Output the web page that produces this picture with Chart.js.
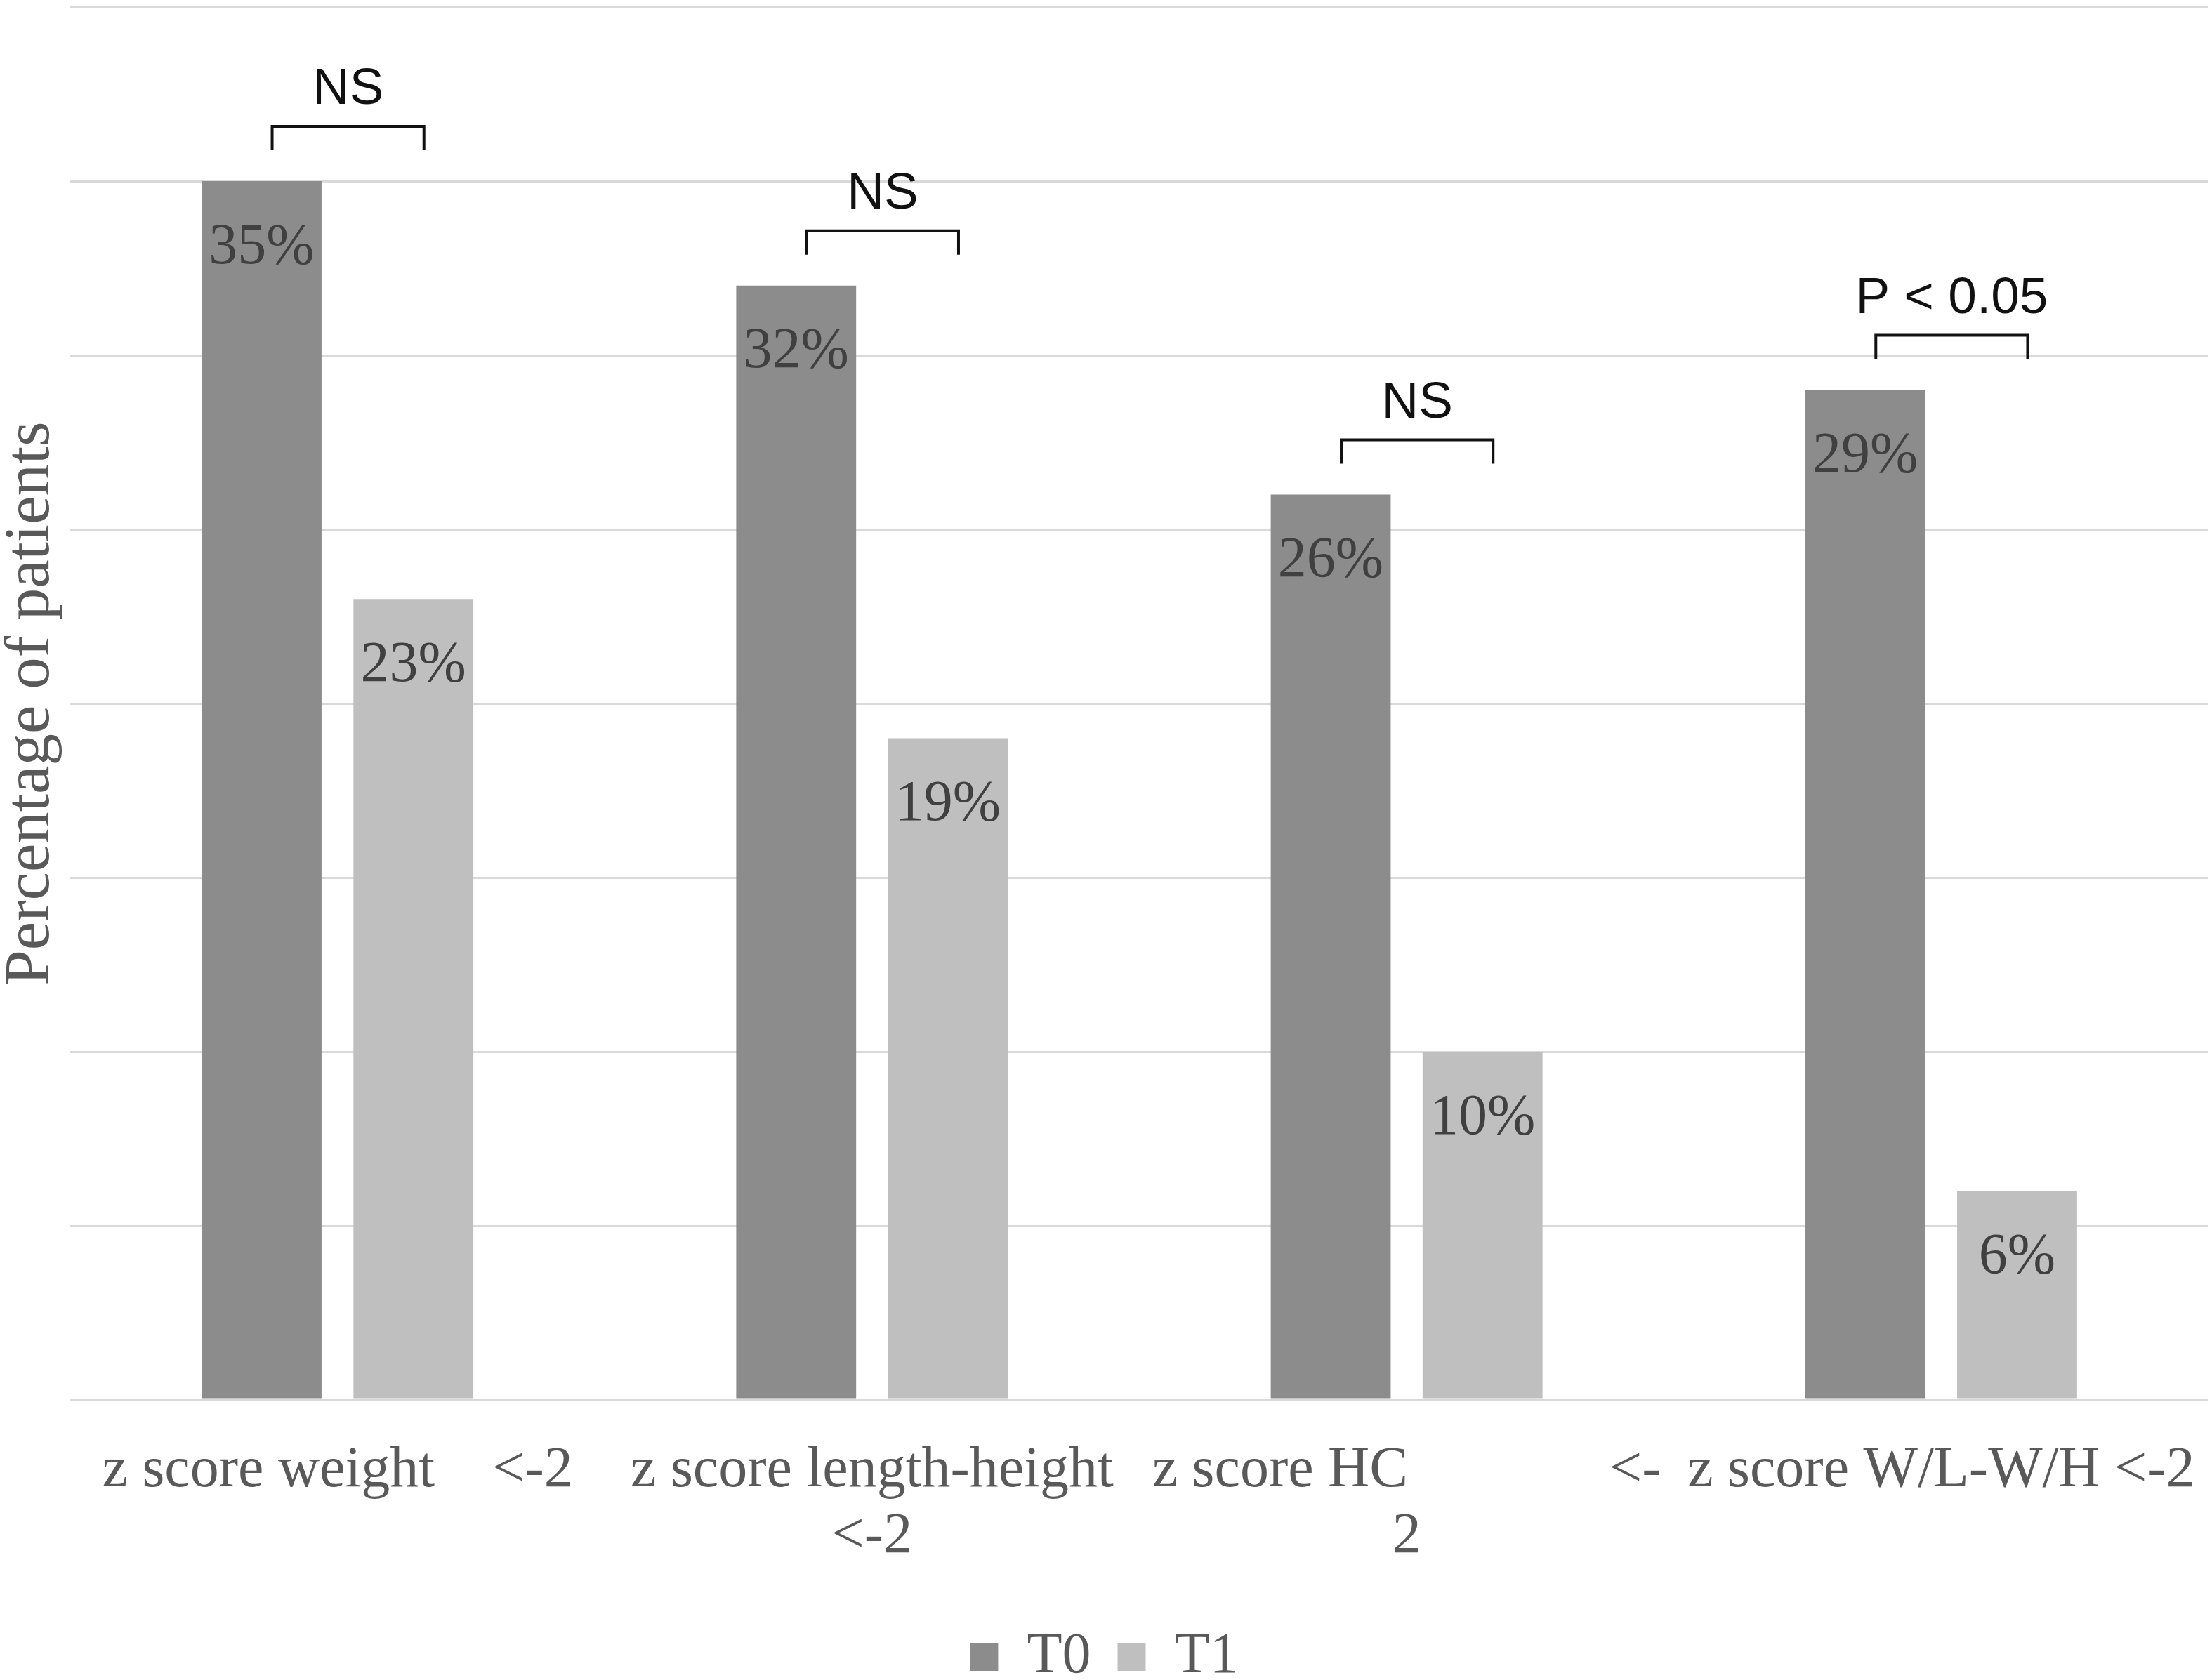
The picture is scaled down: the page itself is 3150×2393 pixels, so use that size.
<!DOCTYPE html>
<html>
<head>
<meta charset="utf-8">
<script src="https://cdn.jsdelivr.net/npm/chart.js@4.4.0/dist/chart.umd.min.js"></script>
<style>
  html, body { margin: 0; padding: 0; background: #ffffff; }
  #wrap { width: 3150px; height: 2393px; position: relative; }
</style>
</head>
<body>
<div id="wrap"><canvas id="c"></canvas></div>
<script>
// ---- data ----
const categories = [
  "z score weight    <-2",
  ["z score length-height", "<-2"],
  ["z score HC              <-", "2"],
  "z score W/L-W/H <-2"
];
const seriesNames = ["T0", "T1"];
const t0Values = [35, 32, 26, 29];
const t1Values = [23, 19, 10, 6];
const significanceLabels = ["NS", "NS", "NS", "P < 0.05"];
const yTicksMax = 40;
const yTickStep = 5;

const serif = "'Liberation Serif', 'Times New Roman', serif";
const sans = "'Liberation Sans', Arial, sans-serif";

const dataLabelPlugin = {
  id: 'dataLabels',
  afterDatasetsDraw(chart) {
    const ctx = chart.ctx;
    ctx.save();
    ctx.font = "82px " + serif;
    ctx.fillStyle = "#404040";
    ctx.textAlign = "center";
    ctx.textBaseline = "middle";
    chart.data.datasets.forEach((ds, di) => {
      const meta = chart.getDatasetMeta(di);
      meta.data.forEach((bar, i) => {
        ctx.fillText(ds.data[i] + "%", bar.x, bar.y + 95);
      });
    });
    ctx.restore();
  }
};

const bracketPlugin = {
  id: 'brackets',
  afterDatasetsDraw(chart) {
    const ctx = chart.ctx;
    const m0 = chart.getDatasetMeta(0), m1 = chart.getDatasetMeta(1);
    ctx.save();
    ctx.strokeStyle = "#111111";
    ctx.lineWidth = 4;
    ctx.fillStyle = "#111111";
    ctx.font = "73px " + sans;
    ctx.textAlign = "center";
    ctx.textBaseline = "middle";
    significanceLabels.forEach((txt, i) => {
      const b0 = m0.data[i], b1 = m1.data[i];
      const x1 = b0.x + 15, x2 = b1.x + 15;
      const yl = b0.y - 78;
      ctx.beginPath();
      ctx.moveTo(x1, yl + 34);
      ctx.lineTo(x1, yl);
      ctx.lineTo(x2, yl);
      ctx.lineTo(x2, yl + 34);
      ctx.stroke();
      ctx.fillText(txt, (x1 + x2) / 2, yl - 52);
    });
    ctx.restore();
  }
};

new Chart(document.getElementById('c'), {
  type: 'bar',
  data: {
    labels: categories,
    datasets: [
      { label: seriesNames[0], data: t0Values, backgroundColor: "#8c8c8c",
        categoryPercentage: 0.568, barPercentage: 0.79 },
      { label: seriesNames[1], data: t1Values, backgroundColor: "#bfbfbf",
        categoryPercentage: 0.568, barPercentage: 0.79 }
    ]
  },
  options: {
    responsive: true,
    maintainAspectRatio: false,
    devicePixelRatio: 1,
    animation: false,
    layout: { padding: { top: 10, right: 5, left: 0, bottom: -18 } },
    scales: {
      x: {
        grid: { display: true, drawOnChartArea: false, drawTicks: true,
                tickLength: 52, tickColor: "rgba(0,0,0,0)" },
        border: { display: false },
        ticks: {
          color: "#595959",
          font: { family: serif, size: 82, lineHeight: 1.14 },
          padding: 3,
          maxRotation: 0,
          autoSkip: false
        }
      },
      y: {
        min: 0,
        max: yTicksMax,
        ticks: { stepSize: yTickStep, display: false },
        grid: { color: "#d9d9d9", lineWidth: 3, drawTicks: false },
        border: { display: false },
        title: {
          display: true,
          text: "Percentage of patients",
          color: "#595959",
          font: { family: serif, size: 91, lineHeight: 1 },
          padding: { top: 0, bottom: 9 }
        }
      }
    },
    plugins: {
      legend: {
        position: 'bottom',
        title: { display: true, text: ' ', font: { size: 13, lineHeight: 1 }, padding: { top: 0, bottom: 29 } },
        labels: {
          color: "#595959",
          font: { family: serif, size: 82 },
          boxWidth: 40,
          boxHeight: 40,
          padding: 38
        }
      },
      tooltip: { enabled: false }
    }
  },
  plugins: [dataLabelPlugin, bracketPlugin]
});
</script>
</body>
</html>
